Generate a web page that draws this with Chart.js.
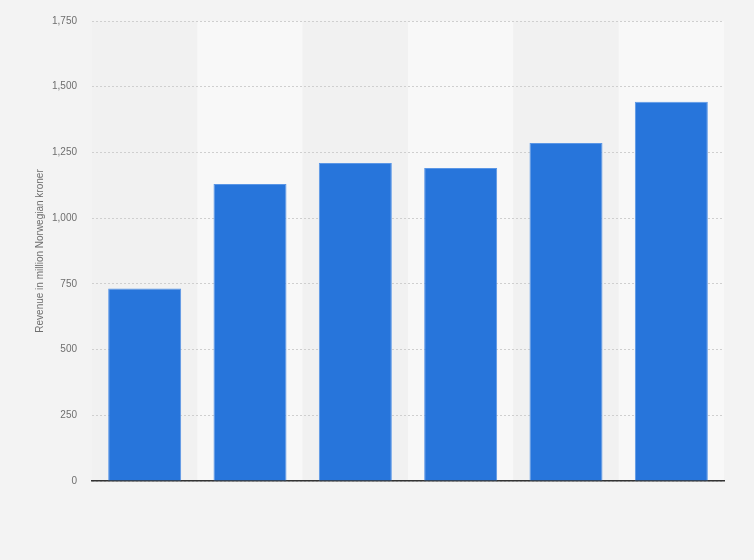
<!DOCTYPE html>
<html>
<head>
<meta charset="utf-8">
<script src="https://cdn.jsdelivr.net/npm/chart.js@4.4.1/dist/chart.umd.min.js"></script>
<style>
  html, body { margin: 0; padding: 0; background: #f3f3f3; }
  #wrap { width: 754px; height: 560px; position: relative; }
</style>
</head>
<body>
<div id="wrap"><canvas id="c-rev"></canvas></div>
<script>
// ── DATA ──────────────────────────────────────────────────────
// x labels are not shown in the source picture
const categories = ['1', '2', '3', '4', '5', '6'];
const revenue = [732, 1130, 1210, 1191, 1286, 1443];
const yTicks = [0, 250, 500, 750, 1000, 1250, 1500, 1750];

const textColor = '#6e6e6e';
const gridColor = '#cfcfcf';

// alternating column bands behind the bars
const bands = {
  id: 'bands',
  beforeDraw(chart) {
    const { ctx, chartArea: a, scales: { x } } = chart;
    ctx.save();
    ctx.fillStyle = '#f3f3f3';
    ctx.fillRect(0, 0, chart.width, chart.height);
    const w = x.getPixelForValue(1) - x.getPixelForValue(0);
    categories.forEach((c, i) => {
      const cx = x.getPixelForValue(i);
      ctx.fillStyle = i % 2 ? '#f8f8f8' : '#f1f1f1';
      ctx.fillRect(cx - w / 2, a.top, w, a.bottom - a.top);
    });
    ctx.restore();
  }
};

new Chart(document.getElementById('c-rev'), {
  type: 'bar',
  data: {
    labels: categories,
    datasets: [{
      data: revenue,
      backgroundColor: '#2775db',
      borderColor: '#5a96e6',
      borderWidth: 1,
      borderSkipped: 'bottom',
      categoryPercentage: 1,
      barPercentage: 0.693
    }]
  },
  options: {
    responsive: true,
    maintainAspectRatio: false,
    animation: false,
    layout: { padding: { top: 19, right: 30, bottom: 71, left: 0 } },
    plugins: { legend: { display: false }, tooltip: { enabled: false } },
    scales: {
      x: {
        ticks: { display: false },
        grid: { display: false },
        border: { display: true, color: '#333333', width: 1.5 }
      },
      y: {
        min: 0,
        max: 1750,
        afterBuildTicks: s => { s.ticks = yTicks.map(v => ({ value: v })); },
        afterFit: s => { s.width = 92; },
        ticks: {
          color: textColor,
          font: { family: 'Liberation Sans, Arial, sans-serif', size: 10 },
          padding: 15,
          callback: v => v.toLocaleString('en-US')
        },
        grid: { color: gridColor, drawTicks: false, lineWidth: 1 },
        border: { display: false, dash: [2, 2] },
        title: {
          display: true,
          text: 'Revenue in million Norwegian kroner',
          color: textColor,
          font: { family: 'Liberation Sans, Arial, sans-serif', size: 10 },
          padding: { top: 34, bottom: 0 }
        }
      }
    }
  },
  plugins: [bands]
});
</script>
</body>
</html>
